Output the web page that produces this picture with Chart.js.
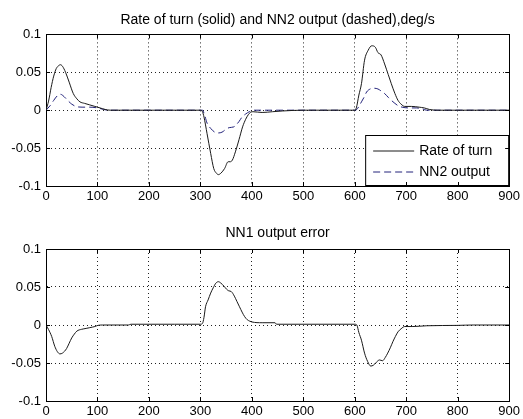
<!DOCTYPE html>
<html>
<head>
<meta charset="utf-8">
<script src="https://cdn.jsdelivr.net/npm/chart.js@4"></script>
<style>
  body { margin: 0; background: #fff; }
  .plot { position: absolute; left: 0; width: 523px; }
  #topWrap { top: 0; height: 210px; }
  #botWrap { top: 210px; height: 209px; }
</style>
</head>
<body>
<div class="plot" id="topWrap"><canvas id="topChart" width="523" height="210"></canvas></div>
<div class="plot" id="botWrap"><canvas id="botChart" width="523" height="209"></canvas></div>
<script>
// Datos (tiempo, valor)
const rateOfTurn = [[0,0],[5,0.012],[10,0.03],[15,0.045],[20,0.055],[25,0.059],[28,0.06],[32,0.058],[38,0.05],[45,0.037],[53,0.022],[60,0.015],[66,0.011],[75,0.009],[85,0.007],[95,0.005],[105,0.003],[115,0.001],[125,0],[200,0],[300,0],[304,-0.002],[307,-0.009],[313,-0.031],[320,-0.057],[326,-0.077],[331,-0.083],[335,-0.085],[340,-0.083],[347,-0.077],[354,-0.068],[358,-0.068],[362,-0.066],[368,-0.055],[375,-0.039],[382,-0.022],[388,-0.012],[393,-0.006],[397,-0.003],[402,-0.002],[420,-0.003],[440,-0.002],[460,-0.001],[500,0],[600,0],[603,0.003],[608,0.02],[613,0.035],[619,0.066],[626,0.079],[633,0.085],[640,0.083],[645,0.076],[651,0.073],[658,0.061],[665,0.047],[671,0.035],[678,0.022],[684,0.013],[690,0.008],[697,0.005],[710,0.005],[725,0.004],[735,0.003],[745,0.001],[760,0],[900,0]];

const nn2Output = [[0,0],[8,0.006],[15,0.013],[22,0.019],[28,0.021],[35,0.018],[42,0.013],[50,0.008],[58,0.005],[70,0.004],[85,0.004],[100,0.003],[112,0.001],[120,0],[300,0],[304,0],[308,-0.006],[313,-0.017],[320,-0.024],[328,-0.029],[335,-0.03],[342,-0.029],[350,-0.025],[356,-0.023],[365,-0.022],[370,-0.019],[375,-0.015],[381,-0.009],[388,-0.005],[395,-0.002],[402,0],[600,0],[604,0.001],[608,0.005],[613,0.011],[618,0.017],[623,0.024],[630,0.028],[637,0.029],[645,0.028],[652,0.025],[658,0.022],[665,0.017],[671,0.013],[678,0.009],[684,0.006],[692,0.004],[705,0.003],[720,0.003],[730,0.002],[740,0],[900,0]];

const nn1Error = [[0,0],[5,-0.006],[11,-0.015],[17,-0.028],[22,-0.035],[27,-0.038],[32,-0.037],[40,-0.031],[45,-0.024],[50,-0.017],[55,-0.012],[60,-0.008],[69,-0.0057],[78,-0.0045],[85,-0.0035],[95,-0.002],[101,-0.0005],[110,0],[160,0],[165,0.001],[250,0.001],[300,0.001],[304,0.002],[307,0.01],[310,0.024],[315,0.033],[320,0.042],[325,0.049],[330,0.055],[335,0.057],[340,0.055],[346,0.051],[351,0.047],[355,0.045],[360,0.044],[366,0.038],[371,0.031],[376,0.024],[381,0.017],[386,0.011],[391,0.007],[396,0.005],[400,0.004],[420,0.003],[445,0.003],[448,0.001],[600,0.001],[604,0],[608,-0.01],[613,-0.02],[619,-0.037],[625,-0.048],[631,-0.054],[636,-0.053],[642,-0.049],[648,-0.046],[654,-0.047],[659,-0.043],[664,-0.037],[669,-0.03],[674,-0.022],[679,-0.015],[684,-0.009],[690,-0.005],[697,-0.002],[713,-0.002],[740,-0.001],[800,-0.0005],[830,0],[900,0]];

const xTicks = [0, 100, 200, 300, 400, 500, 600, 700, 800, 900];
const yTicks = [-0.1, -0.05, 0, 0.05, 0.1];
const yTickLabels = ['-0.1', '-0.05', '0', '0.05', '0.1'];

const titles = ['Rate of turn (solid) and NN2 output (dashed),deg/s', 'NN1 output error'];
const seriesNames = ['Rate of turn', 'NN2 output'];

const FONT = 'Arial, "Liberation Sans", sans-serif';
const toXY = arr => arr.map(p => ({ x: p[0], y: p[1] }));

// Marcas hacia dentro, estilo MATLAB
const innerTicks = {
    id: 'innerTicks',
    afterDraw(chart) {
        const { ctx, chartArea: a, scales } = chart;
        ctx.save();
        ctx.strokeStyle = '#000';
        ctx.lineWidth = 1;
        ctx.beginPath();
        xTicks.forEach(v => {
            const px = Math.round(scales.x.getPixelForValue(v)) + 0.5;
            ctx.moveTo(px, a.bottom); ctx.lineTo(px, a.bottom - 4);
            ctx.moveTo(px, a.top); ctx.lineTo(px, a.top + 4);
        });
        yTicks.forEach(v => {
            const py = Math.round(scales.y.getPixelForValue(v)) + 0.5;
            ctx.moveTo(a.left, py); ctx.lineTo(a.left + 4, py);
            ctx.moveTo(a.right, py); ctx.lineTo(a.right - 4, py);
        });
        ctx.stroke();
        ctx.restore();
    }
};

// Leyenda dentro del area, abajo a la derecha
const boxLegend = {
    id: 'boxLegend',
    afterDatasetsDraw(chart) {
        if (chart.canvas.id !== 'topChart') return;
        const { ctx, chartArea: a } = chart;
        const w = 143, h = 50;
        const left = a.right - w - 1, top = a.bottom - h - 1;
        ctx.save();
        ctx.fillStyle = '#fff';
        ctx.fillRect(left, top, w, h);
        ctx.strokeStyle = '#000';
        ctx.lineWidth = 1;
        ctx.strokeRect(left + 0.5, top + 0.5, w, h);
        ctx.font = '14px ' + FONT;
        ctx.textBaseline = 'middle';
        chart.data.datasets.forEach((ds, i) => {
            const y = top + 16 + i * 21;
            ctx.strokeStyle = ds.borderColor;
            ctx.setLineDash(ds.borderDash || []);
            ctx.beginPath();
            ctx.moveTo(left + 8, y); ctx.lineTo(left + 49, y);
            ctx.stroke();
            ctx.setLineDash([]);
            ctx.fillStyle = '#000';
            ctx.fillText(ds.label, left + 54, y);
        });
        ctx.restore();
    }
};

function makeOptions(title, titlePad, axisH) {
    return {
        responsive: false,
        animation: false,
        layout: { padding: { left: 0, right: 11, top: 0, bottom: 0 } },
        elements: { point: { radius: 0 }, line: { borderWidth: 1, cubicInterpolationMode: 'monotone' } },
        plugins: {
            legend: { display: false },
            tooltip: { enabled: false },
            title: {
                display: true,
                fullSize: false, // centrado sobre el area de datos
                text: title,
                color: '#000',
                font: { family: FONT, size: 14, weight: 'normal' },
                padding: titlePad
            }
        },
        scales: {
            x: {
                type: 'linear', min: 0, max: 900,
                afterBuildTicks: s => { s.ticks = xTicks.map(v => ({ value: v })); },
                afterFit: s => { s.height = axisH; },
                ticks: { color: '#000', font: { family: FONT, size: 13 }, padding: 3, maxRotation: 0 },
                grid: { color: '#222', drawTicks: false },
                border: { display: true, color: '#000', dash: [1, 3] }
            },
            x2: {
                type: 'linear', position: 'top', min: 0, max: 900,
                afterFit: s => { s.height = 0; },
                ticks: { display: false },
                grid: { display: false, drawTicks: false },
                border: { display: true, color: '#000' }
            },
            y: {
                min: -0.1, max: 0.1,
                afterBuildTicks: s => { s.ticks = yTicks.map(v => ({ value: v })); },
                afterFit: s => { s.width = 46; },
                ticks: {
                    color: '#000', font: { family: FONT, size: 13 }, padding: 5,
                    callback: v => yTickLabels[yTicks.indexOf(v)]
                },
                grid: { color: '#222', drawTicks: false },
                border: { display: true, color: '#000', dash: [1, 3] }
            },
            y2: {
                position: 'right', min: -0.1, max: 0.1,
                afterFit: s => { s.width = 0; },
                ticks: { display: false },
                grid: { display: false, drawTicks: false },
                border: { display: true, color: '#000' }
            }
        }
    };
}

new Chart(document.getElementById('topChart').getContext('2d'), {
    type: 'line',
    data: {
        datasets: [{
            label: seriesNames[0],
            data: toXY(rateOfTurn),
            borderColor: '#1a1a1a',
            fill: false
        }, {
            label: seriesNames[1],
            data: toXY(nn2Output),
            borderColor: '#22227a',
            borderDash: [7, 4],
            fill: false
        }]
    },
    options: makeOptions(titles[0], { top: 12, bottom: 5.6 }, 24),
    plugins: [innerTicks, boxLegend]
});

new Chart(document.getElementById('botChart').getContext('2d'), {
    type: 'line',
    data: {
        datasets: [{
            label: titles[1],
            data: toXY(nn1Error),
            borderColor: '#1a1a1a',
            fill: false
        }]
    },
    options: makeOptions(titles[1], { top: 15, bottom: 7.2 }, 18),
    plugins: [innerTicks]
});
</script>
</body>
</html>
